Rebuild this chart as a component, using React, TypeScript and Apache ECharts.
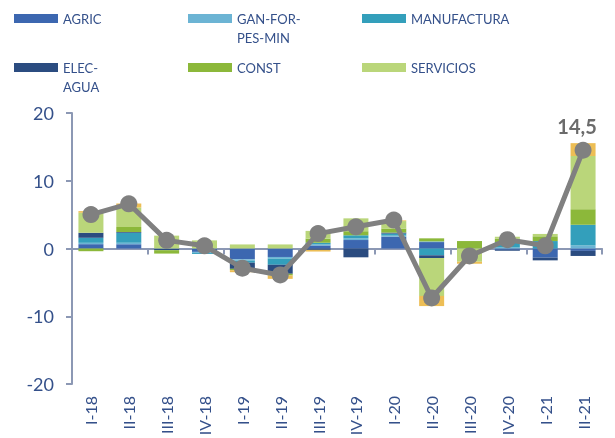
import React, { useEffect, useRef } from "react";
import * as echarts from "echarts";

const categories = ["I-18", "II-18", "III-18", "IV-18", "I-19", "II-19", "III-19", "IV-19", "I-20", "II-20", "III-20", "IV-20", "I-21", "II-21"];
const agric = [0.64, 0.64, -0.05, -0.5, -1.6, -1.25, 0.45, 1.25, 1.75, 0.95, 0, -0.2, -1.35, -0.35];
const ganForPesMin = [0.2, 0.2, 0, -0.15, -0.2, -0.25, 0.15, 0.25, 0.15, 0.1, 0, 0.15, 0, 0.45];
const manufactura = [0.74, 1.5, 0, -0.15, -0.3, -0.9, 0.25, 0.45, 0.3, -1.0, 0, 0.8, 1.1, 3.05];
const elecAgua = [0.74, 0.1, -0.2, 0, -0.9, -1.33, -0.2, -1.3, 0.15, -0.4, 0, -0.15, -0.4, -0.75];
const construccion = [-0.4, 0.74, -0.5, 0, -0.2, -0.25, 0.6, 0.6, 0.6, 0.45, 1.1, 0.5, 0.7, 2.3];
const servicios = [2.95, 2.86, 1.9, 1.2, 0.6, 0.6, 1.15, 1.9, 1.1, -5.6, -1.95, 0.3, 0.35, 7.85];
const otros = [0.25, 0.6, 0, 0, -0.3, -0.5, -0.25, 0, 0.1, -1.5, -0.3, 0, 0, 1.9];
const total = [5.0, 6.6, 1.2, 0.4, -2.9, -3.9, 2.2, 3.2, 4.2, -7.3, -1.1, 1.3, 0.4, 14.5];
const yTicks = { min: -20, max: 20, interval: 10 };

const FONT = "Lato, 'Open Sans', sans-serif";
const TEXT_BLUE = "#34508a";
const AXIS_COL = "#8c98b4";

export default function App() {
  const ref = useRef<HTMLDivElement>(null);
  useEffect(() => {
    if (!ref.current) return;
    const chart = echarts.init(ref.current, null, { renderer: "svg" });
    const barSeries = [
      { name: "AGRIC", data: agric, color: "#3c67b0" },
      { name: "GAN-FOR-PES-MIN", data: ganForPesMin, color: "#6cb4d4" },
      { name: "MANUFACTURA", data: manufactura, color: "#339fbb" },
      { name: "ELEC-AGUA", data: elecAgua, color: "#2b4c80" },
      { name: "CONST", data: construccion, color: "#8cb83a" },
      { name: "SERVICIOS", data: servicios, color: "#bad67a" },
      { name: "OTROS", data: otros, color: "#edbe55" },
    ];
    const legendLabels: Record<string, string> = {
      "GAN-FOR-PES-MIN": "\nGAN-FOR-\nPES-MIN",
      "ELEC-AGUA": "\nELEC-\nAGUA",
    };
    const legendPos = [
      { name: "AGRIC", left: 14, top: 9 },
      { name: "GAN-FOR-PES-MIN", left: 188, top: -10 },
      { name: "MANUFACTURA", left: 362, top: 9 },
      { name: "ELEC-AGUA", left: 14, top: 39 },
      { name: "CONST", left: 188, top: 58 },
      { name: "SERVICIOS", left: 362, top: 58 },
    ];
    const legends = legendPos.map((p) => ({
      data: [p.name],
      left: p.left,
      top: p.top,
      padding: 0,
      itemGap: 0,
      itemWidth: 44,
      itemHeight: 9,
      icon: "rect",
      selectedMode: false,
      formatter: (n: string) => legendLabels[n] || n,
      textStyle: { color: TEXT_BLUE, fontSize: 13, fontFamily: FONT, lineHeight: 19 },
    }));

    chart.setOption({
      animation: false,
      textStyle: { fontFamily: FONT },
      legend: legends,
      grid: { left: 72, right: 13, top: 113, bottom: 54, containLabel: false, outerBoundsMode: "none" },
      xAxis: [
        {
          type: "category",
          data: categories,
          axisLine: { onZero: true, lineStyle: { color: AXIS_COL, width: 2 } },
          axisTick: { show: true, interval: 1, length: 6, lineStyle: { color: AXIS_COL, width: 2 } },
          axisLabel: { show: false },
        },
        {
          type: "category",
          data: categories,
          position: "bottom",
          axisLine: { show: false, onZero: false },
          axisTick: { show: false },
          axisLabel: { rotate: 90, margin: 12, fontSize: 16, color: TEXT_BLUE, fontFamily: FONT, interval: 0 },
        },
      ],
      yAxis: {
        type: "value",
        min: yTicks.min,
        max: yTicks.max,
        interval: yTicks.interval,
        axisLine: { show: true, lineStyle: { color: AXIS_COL, width: 2 } },
        axisTick: { show: true, length: 6, lineStyle: { color: AXIS_COL, width: 2 } },
        splitLine: { show: false },
        axisLabel: { fontSize: 18, color: TEXT_BLUE, margin: 18, fontFamily: FONT },
      },
      series: [
        ...barSeries.map((s) => ({
          type: "bar",
          name: s.name,
          stack: "total",
          data: s.data,
          barWidth: 25,
          itemStyle: { color: s.color },
          xAxisIndex: 0,
        })),
        {
          type: "line",
          name: "TOTAL",
          data: total.map((v, i) =>
            i === total.length - 1
              ? {
                  value: v,
                  label: {
                    show: true,
                    position: "top",
                    distance: 6,
                    offset: [-6, 0],
                    formatter: (p: any) => String(p.value).replace(".", ","),
                    fontSize: 20,
                    fontWeight: "bold",
                    color: "#6b6b6b",
                    fontFamily: FONT,
                  },
                }
              : v
          ),
          symbol: "circle",
          symbolSize: 17,
          itemStyle: { color: "#808080" },
          lineStyle: { color: "#808080", width: 5 },
          z: 5,
        },
      ],
    });
    return () => chart.dispose();
  }, []);
  return <div ref={ref} style={{ position: "fixed", left: 0, top: 0, width: 615, height: 438 }} />;
}
